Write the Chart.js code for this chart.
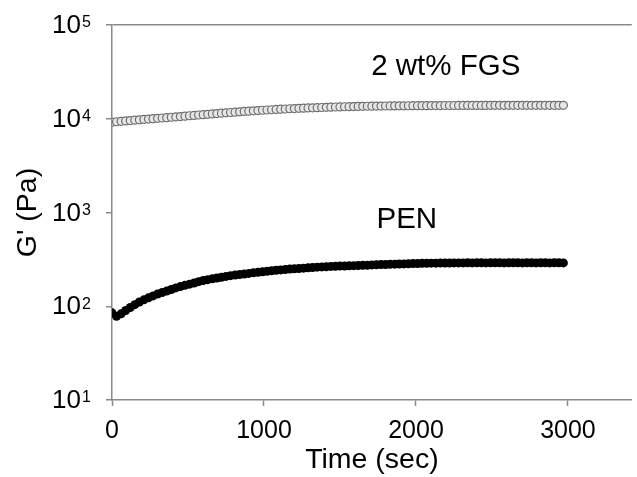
<!DOCTYPE html>
<html>
<head>
<meta charset="utf-8">
<script src="https://cdn.jsdelivr.net/npm/chart.js@4/dist/chart.umd.min.js"></script>
<style>
  html, body { margin: 0; padding: 0; background: #fff; }
  #wrap { width: 637px; height: 477px; }
</style>
</head>
<body>
<div id="wrap"><canvas id="c" width="637" height="477"></canvas></div>
<script>
// time (sec)
const times = [
  0, 30, 60, 90, 120, 150, 180, 210, 240, 270,
  300, 330, 360, 390, 420, 450, 480, 510, 540, 570,
  600, 630, 660, 690, 720, 750, 780, 810, 840, 870,
  900, 930, 960, 990, 1020, 1050, 1080, 1110, 1140, 1170,
  1200, 1230, 1260, 1290, 1320, 1350, 1380, 1410, 1440, 1470,
  1500, 1530, 1560, 1590, 1620, 1650, 1680, 1710, 1740, 1770,
  1800, 1830, 1860, 1890, 1920, 1950, 1980, 2010, 2040, 2070,
  2100, 2130, 2160, 2190, 2220, 2250, 2280, 2310, 2340, 2370,
  2400, 2430, 2460, 2490, 2520, 2550, 2580, 2610, 2640, 2670,
  2700, 2730, 2760, 2790, 2820, 2850, 2880, 2910, 2940, 2970
];

// G' (Pa), 2 wt% FGS
const fgs = [
  9200, 9290, 9380, 9470, 9560, 9650, 9740, 9830, 9920, 10010,
  10100, 10190, 10280, 10370, 10460, 10560, 10660, 10760, 10860, 10960,
  11060, 11160, 11260, 11360, 11460, 11560, 11660, 11760, 11860, 11960,
  12050, 12140, 12230, 12320, 12400, 12480, 12560, 12640, 12710, 12780,
  12850, 12910, 12970, 13030, 13090, 13140, 13190, 13240, 13290, 13340,
  13380, 13420, 13460, 13500, 13530, 13560, 13590, 13620, 13640, 13660,
  13680, 13700, 13720, 13740, 13750, 13760, 13770, 13780, 13790, 13800,
  13810, 13820, 13830, 13840, 13850, 13850, 13860, 13860, 13870, 13870,
  13880, 13880, 13880, 13890, 13890, 13890, 13900, 13900, 13900, 13900,
  13900, 13900, 13910, 13900, 13910, 13900, 13910, 13900, 13900, 13900
];

// G' (Pa), PEN
const pen = [
  85, 78, 83, 90, 97, 104, 111, 117, 123, 129,
  135, 140, 145, 151, 157, 162, 167, 172, 177, 183,
  188, 192, 196, 200, 204, 208, 212, 215, 218, 221,
  224, 227, 230, 233, 236, 239, 242, 244, 246, 249,
  251, 253, 255, 257, 259, 261, 263, 264, 266, 267,
  268, 269, 270, 271, 272, 273, 274, 276, 277, 278,
  279, 280, 281, 282, 283, 284, 285, 286, 287, 287,
  288, 288, 289, 289, 289, 290, 290, 290, 291, 290,
  291, 291, 290, 291, 291, 291, 290, 291, 291, 291,
  290, 291, 291, 290, 291, 291, 290, 291, 291, 290
];

const xTicks = [0, 1000, 2000, 3000];
const yTicks = [10, 100, 1000, 10000, 100000];

// in-plot labels, placed in data units
const notes = [
  { text: '2 wt% FGS', x: 1705, y: 29300 },
  { text: 'PEN', x: 1740, y: 685 }
];

const FONT = "'Liberation Sans', Arial, sans-serif";
const AXIS = '#8a8a8a';

const toPts = (vals) => times.map((t, i) => ({ x: t, y: vals[i] }));

// draw "10" with a raised exponent next to each decade tick
const powerLabels = {
  id: 'powerLabels',
  afterDraw(chart) {
    const ctx = chart.ctx;
    const y = chart.scales.y;
    ctx.save();
    ctx.fillStyle = '#000';
    y.ticks.forEach(t => {
      const py = y.getPixelForValue(t.value);
      const exp = String(Math.round(Math.log10(t.value)));
      ctx.font = '26px ' + FONT;
      ctx.textAlign = 'right';
      ctx.textBaseline = 'middle';
      ctx.fillText('10', y.right - 31, py + 1);
      ctx.font = '16px ' + FONT;
      ctx.textAlign = 'left';
      ctx.textBaseline = 'top';
      ctx.fillText(exp, y.right - 30, py - 10);
    });
    ctx.restore();
  }
};

const noteLabels = {
  id: 'noteLabels',
  afterDraw(chart) {
    const ctx = chart.ctx;
    const { x, y } = chart.scales;
    ctx.save();
    ctx.fillStyle = '#000';
    ctx.font = '29.5px ' + FONT;
    ctx.textAlign = 'left';
    ctx.textBaseline = 'alphabetic';
    notes.forEach(n => ctx.fillText(n.text, x.getPixelForValue(n.x), y.getPixelForValue(n.y)));
    ctx.restore();
  }
};

new Chart(document.getElementById('c'), {
  type: 'scatter',
  data: {
    datasets: [
      {
        label: '2 wt% FGS',
        data: toPts(fgs),
        pointStyle: 'circle',
        pointRadius: 4,
        borderWidth: 1.2,
        borderColor: '#6e6e6e',
        backgroundColor: '#e6e6e6',
        showLine: false
      },
      {
        label: 'PEN',
        data: toPts(pen),
        pointStyle: 'circle',
        pointRadius: 4.5,
        borderWidth: 0,
        borderColor: '#000',
        backgroundColor: '#000',
        showLine: false
      }
    ]
  },
  options: {
    responsive: false,
    animation: false,
    layout: { padding: { left: 0, right: 0, top: 25, bottom: 0 } },
    plugins: {
      legend: { display: false },
      tooltip: { enabled: false }
    },
    scales: {
      x: {
        type: 'linear',
        min: 0,
        max: 3420,
        afterBuildTicks: (s) => { s.ticks = xTicks.map(v => ({ value: v })); },
        afterFit: (s) => { s.height = 77; },
        ticks: {
          font: { family: FONT, size: 25 },
          color: '#000',
          padding: 10,
          maxRotation: 0,
          callback: (v) => String(v)
        },
        grid: {
          drawOnChartArea: false,
          tickLength: 6,
          tickColor: AXIS,
          tickWidth: 1.5
        },
        border: { color: AXIS, width: 1.5 },
        title: {
          display: true,
          text: 'Time (sec)',
          color: '#000',
          font: { family: FONT, size: 28.5 },
          padding: { top: 0, bottom: 0 }
        }
      },
      y: {
        type: 'logarithmic',
        min: 10,
        max: 100000,
        afterBuildTicks: (s) => { s.ticks = yTicks.map(v => ({ value: v })); },
        afterFit: (s) => { s.width = 112; },
        ticks: { display: false },
        grid: {
          color: (c) => (c.tick && c.tick.value === 100000 ? AXIS : 'rgba(0,0,0,0)'),
          lineWidth: 1.5,
          tickLength: 6,
          tickColor: AXIS,
          tickWidth: 1.5
        },
        border: { color: AXIS, width: 1.5 },
        title: {
          display: true,
          text: "G' (Pa)",
          color: '#000',
          font: { family: FONT, size: 28.5 },
          padding: { top: 11, bottom: 0 }
        }
      }
    }
  },
  plugins: [powerLabels, noteLabels]
});
</script>
</body>
</html>
